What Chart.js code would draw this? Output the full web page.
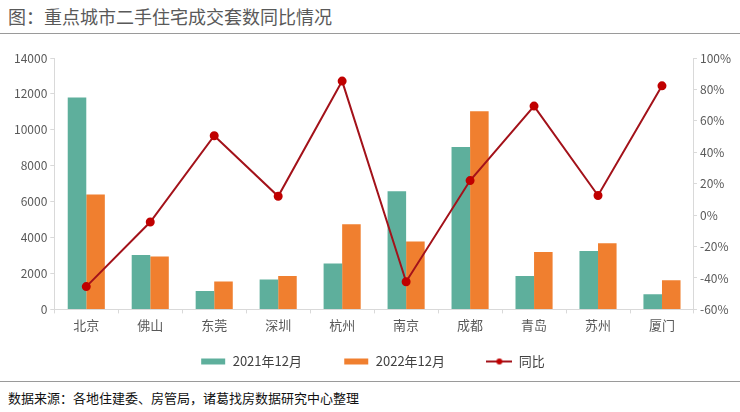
<!DOCTYPE html>
<html>
<head>
<meta charset="utf-8">
<script src="https://cdn.jsdelivr.net/npm/chart.js@4"></script>
<style>
  body { margin: 0; width: 740px; height: 412px; background: #fff; position: relative; overflow: hidden;
         font-family: "Noto Sans CJK SC", "Noto Sans", sans-serif; }
  #title { position: absolute; left: 0; top: 0; width: 740px; height: 34px; border-bottom: 1px solid #9a9a9a;
           font-size: 18px; color: #595959; line-height: 33px; padding-left: 8px; box-sizing: border-box; }
  #box { position: absolute; left: 0; top: 34px; width: 740px; height: 344px; }
  #source { position: absolute; left: 0; top: 381px; width: 740px; height: 31px; border-top: 1px solid #9a9a9a;
            font-size: 13px; color: #111; font-weight: normal; padding-left: 8px; line-height: 31px; box-sizing: border-box; }
</style>
</head>
<body>
<div id="title">图：重点城市二手住宅成交套数同比情况</div>
<div id="box"><canvas id="chart"></canvas></div>
<div id="source">数据来源：各地住建委、房管局，诸葛找房数据研究中心整理</div>
<script>
cities = ["北京", "佛山", "东莞", "深圳", "杭州", "南京", "成都", "青岛", "苏州", "厦门"];
deals2021 = [11800, 3030, 1020, 1660, 2550, 6580, 9050, 1860, 3250, 850];
deals2022 = [6400, 2940, 1560, 1860, 4740, 3780, 11030, 3200, 3680, 1620];
yoy = [-45.5, -4.4, 50.5, 12, 85.3, -42.4, 22, 69.4, 12.5, 82.3];
seriesNames = ["2021年12月", "2022年12月", "同比"];

var teal = "#5EAF9C";
var orange = "#F07F2F";
var lineRed = "#A3121A";
var dotRed = "#C00000";
var axisColor = "#d9d9d9";
var textColor = "#595959";

// little pictures for the legend keys
function swatch(kind, color) {
    var c = document.createElement("canvas");
    c.width = 26;
    c.height = 10;
    var g = c.getContext("2d");
    if (kind == "bar") {
        g.fillStyle = color;
        g.fillRect(1, 2, 24, 6);
    } else {
        g.strokeStyle = lineRed;
        g.lineWidth = 2;
        g.beginPath();
        g.moveTo(0, 5);
        g.lineTo(26, 5);
        g.stroke();
        g.fillStyle = dotRed;
        g.beginPath();
        g.arc(13, 5, 3, 0, Math.PI * 2);
        g.fill();
    }
    return c;
}
var keys = [swatch("bar", teal), swatch("bar", orange), swatch("line")];
// gap after each legend entry (spaces, because labels.padding also grows the legend height)
var gaps = ["        ", "        ", ""];

new Chart(document.getElementById("chart"), {
    data: {
        labels: cities,
        datasets: [
            {
                type: "bar",
                label: seriesNames[0],
                data: deals2021,
                backgroundColor: teal,
                yAxisID: "y",
                order: 2,
                barPercentage: 1,
                categoryPercentage: 0.58
            },
            {
                type: "bar",
                label: seriesNames[1],
                data: deals2022,
                backgroundColor: orange,
                yAxisID: "y",
                order: 2,
                barPercentage: 1,
                categoryPercentage: 0.58
            },
            {
                type: "line",
                label: seriesNames[2],
                data: yoy,
                borderColor: lineRed,
                borderWidth: 2,
                pointBackgroundColor: dotRed,
                pointBorderColor: dotRed,
                pointRadius: 3.5,
                yAxisID: "y1",
                order: 1,
                tension: 0
            }
        ]
    },
    options: {
        responsive: true,
        maintainAspectRatio: false,
        animation: false,
        layout: { padding: { top: 24, left: 11, right: 6, bottom: 0 } },
        scales: {
            x: {
                offset: true,
                grid: { drawOnChartArea: false, offset: true, tickLength: 4, color: axisColor },
                border: { color: axisColor },
                ticks: { color: textColor, font: { size: 13, family: "Noto Sans CJK SC" }, padding: 4 }
            },
            y: {
                position: "left",
                min: 0,
                max: 14000,
                ticks: {
                    stepSize: 2000,
                    color: textColor,
                    font: { size: 12, family: "Noto Sans CJK SC" },
                    padding: 3,
                    callback: function (v) { return String(v); }
                },
                grid: { drawOnChartArea: false, tickLength: 4, color: axisColor },
                border: { color: axisColor }
            },
            y1: {
                position: "right",
                min: -60,
                max: 100,
                ticks: {
                    stepSize: 20,
                    color: textColor,
                    font: { size: 12, family: "Noto Sans CJK SC" },
                    padding: 3,
                    callback: function (v) { return v + "%"; }
                },
                grid: { drawOnChartArea: false, tickLength: 3, color: axisColor },
                border: { color: axisColor }
            }
        },
        plugins: {
            tooltip: { enabled: false },
            legend: {
                position: "bottom",
                labels: {
                    usePointStyle: true,
                    pointStyleWidth: 26,
                    padding: 18,
                    color: "#404040",
                    font: { size: 13, family: "Noto Sans CJK SC" },
                    generateLabels: function (chart) {
                        return seriesNames.map(function (name, i) {
                            return {
                                text: name + gaps[i],
                                pointStyle: keys[i],
                                fontColor: "#404040",
                                datasetIndex: i,
                                hidden: false,
                                lineWidth: 0
                            };
                        });
                    }
                }
            }
        }
    }
});
</script>
</body>
</html>
